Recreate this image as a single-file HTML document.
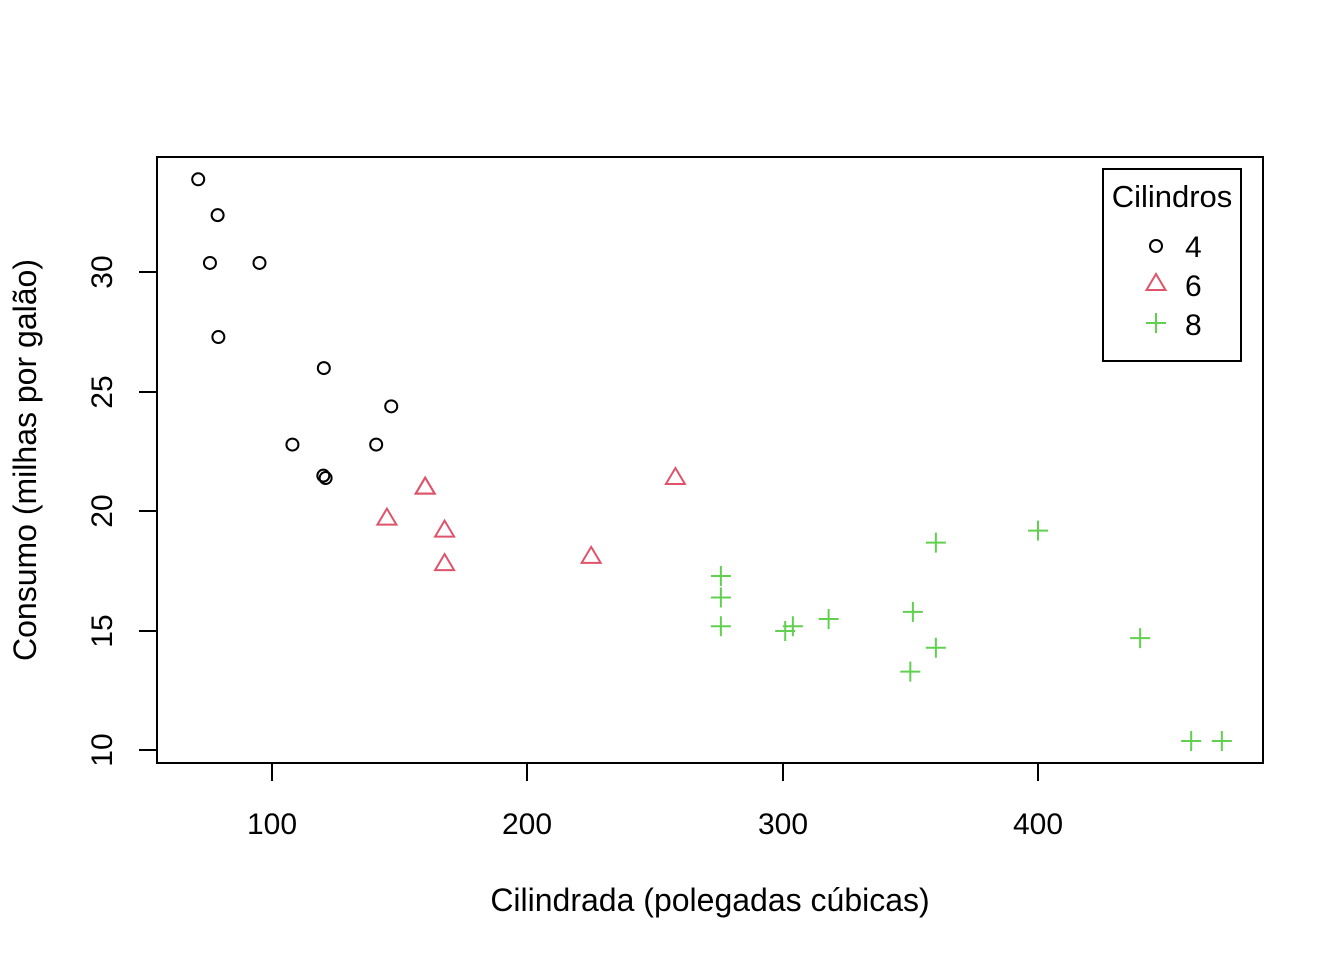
<!DOCTYPE html>
<html><head><meta charset="utf-8"><style>
html,body{margin:0;padding:0;background:#fff}
svg text{font-family:"Liberation Sans",sans-serif;fill:#000}
</style></head><body>
<svg id="s" width="1344" height="960" viewBox="0 0 1344 960" xmlns="http://www.w3.org/2000/svg">
<rect x="157" y="157" width="1106" height="606" fill="none" stroke="#000" stroke-width="2"/>
<g stroke="#000" stroke-width="2">
<line x1="272" y1="763" x2="1038" y2="763"/>
<line x1="272" y1="763" x2="272" y2="781"/>
<line x1="527" y1="763" x2="527" y2="781"/>
<line x1="783" y1="763" x2="783" y2="781"/>
<line x1="1038" y1="763" x2="1038" y2="781"/>
<line x1="157" y1="272" x2="157" y2="750"/>
<line x1="157" y1="750" x2="139" y2="750"/>
<line x1="157" y1="631" x2="139" y2="631"/>
<line x1="157" y1="511" x2="139" y2="511"/>
<line x1="157" y1="392" x2="139" y2="392"/>
<line x1="157" y1="272" x2="139" y2="272"/>
</g>
<g font-size="30" text-anchor="middle">
<text x="272" y="834">100</text>
<text x="527" y="834">200</text>
<text x="783" y="834">300</text>
<text x="1038" y="834">400</text>
<text transform="translate(112,750) rotate(-90)">10</text>
<text transform="translate(112,631) rotate(-90)">15</text>
<text transform="translate(112,511) rotate(-90)">20</text>
<text transform="translate(112,392) rotate(-90)">25</text>
<text transform="translate(112,272) rotate(-90)">30</text>
</g>
<g font-size="32" text-anchor="middle">
<text x="710" y="911">Cilindrada (polegadas cúbicas)</text>
<text transform="translate(36,460) rotate(-90)">Consumo (milhas por galão)</text>
</g>
<rect x="1103" y="169" width="138" height="192" fill="#fff" stroke="#000" stroke-width="2"/>
<text x="1172" y="207" font-size="31" text-anchor="middle">Cilindros</text>
<g font-size="30"><text x="1185" y="257">4</text><text x="1185" y="296">6</text><text x="1185" y="335">8</text></g>
<g id="pts"></g>
</svg>
<script>
var d=[[160,21,6],[160,21,6],[108,22.8,4],[258,21.4,6],[360,18.7,8],[225,18.1,6],[360,14.3,8],[146.7,24.4,4],[140.8,22.8,4],[167.6,19.2,6],[167.6,17.8,6],[275.8,16.4,8],[275.8,17.3,8],[275.8,15.2,8],[472,10.4,8],[460,10.4,8],[440,14.7,8],[78.7,32.4,4],[75.7,30.4,4],[71.1,33.9,4],[120.1,21.5,4],[318,15.5,8],[304,15.2,8],[350,13.3,8],[400,19.2,8],[79,27.3,4],[120.3,26,4],[95.1,30.4,4],[351,15.8,8],[145,19.7,6],[301,15,8],[121,21.4,4]];
function sh(x,y,c){
 if(c==4)return '<circle cx="'+x+'" cy="'+y+'" r="6" fill="none" stroke="#000" stroke-width="2"/>';
 if(c==6)return '<polygon points="'+x+','+(y-10)+' '+(x+9.5)+','+(y+6)+' '+(x-9.5)+','+(y+6)+'" fill="none" stroke="#DF536B" stroke-width="2"/>';
 return '<path d="M'+(x-10)+' '+y+'H'+(x+10)+'M'+x+' '+(y-10)+'V'+(y+10)+'" stroke="#61D04F" stroke-width="2"/>';
}
var h='';
d.forEach(function(p){h+=sh(272+(p[0]-100)*2.5533,750.5-(p[1]-10)*23.9,p[2]);});
h+=sh(1156,246,4)+sh(1156,284,6)+sh(1156,323,8);
document.getElementById('pts').innerHTML=h;
</script>
</body></html>
